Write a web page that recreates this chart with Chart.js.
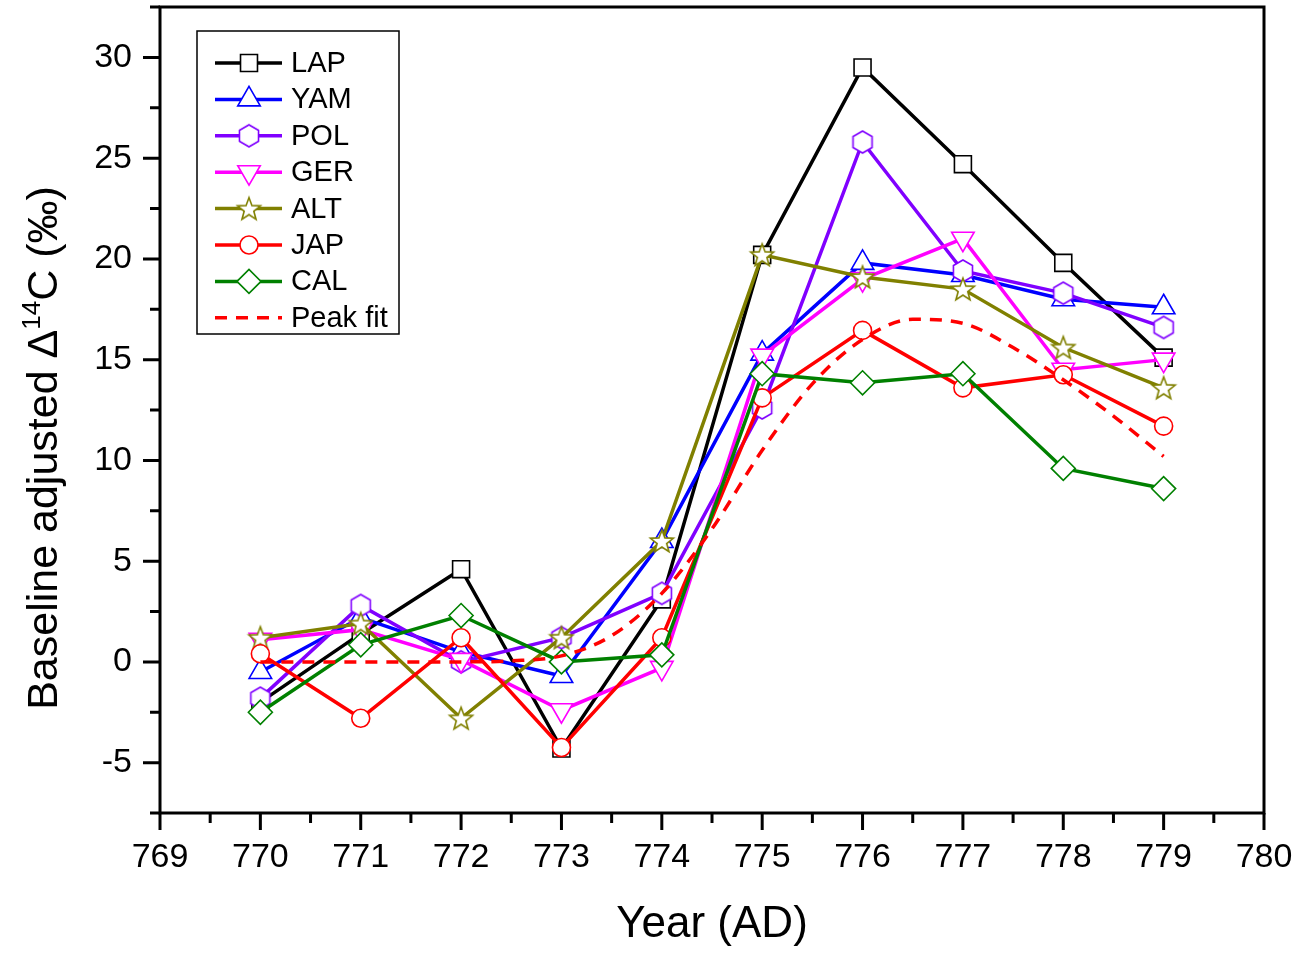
<!DOCTYPE html>
<html>
<head>
<meta charset="utf-8">
<script src="https://cdn.jsdelivr.net/npm/chart.js@4.4.0/dist/chart.umd.min.js"></script>
<style>
  html, body { margin: 0; background: #fff; }
  #wrap { width: 1299px; height: 954px; }
</style>
</head>
<body>
<div id="wrap"><canvas id="chart"></canvas></div>
<script>
// data
const years = [770, 771, 772, 773, 774, 775, 776, 777, 778, 779];
const lap = [-2.0, 1.4, 4.6, -4.3, 3.1, 20.2, 29.5, 24.7, 19.8, 15.1];
const yam = [-0.5, 2.2, 0.5, -0.7, 6.0, 15.3, 19.8, 19.2, 18.0, 17.6];
const pol = [-1.8, 2.8, 0.0, 1.2, 3.4, 12.6, 25.8, 19.4, 18.3, 16.6];
const ger = [1.1, 1.6, 0.1, -2.4, -0.3, 15.2, 19.0, 21.0, 14.5, 15.0];
const alt = [1.2, 1.9, -2.8, 1.2, 6.0, 20.2, 19.1, 18.5, 15.6, 13.6];
const jap = [0.4, -2.8, 1.2, -4.25, 1.2, 13.1, 16.45, 13.6, 14.25, 11.7];
const cal = [-2.5, 0.85, 2.3, 0.0, 0.35, 14.3, 13.85, 14.3, 9.6, 8.6];

const fitYears = [770, 770.5, 771, 771.5, 772, 772.5, 773, 773.5, 774, 774.5, 775, 775.5, 776, 776.5, 777, 777.5, 778, 778.5, 779];
const fitValues = [0, 0, 0, 0, 0, 0.05, 0.3, 1.3, 3.4, 6.6, 10.5, 13.8, 16.0, 17.0, 16.8, 15.6, 14.0, 12.2, 10.2];

const xTicks = [769, 770, 771, 772, 773, 774, 775, 776, 777, 778, 779, 780];
const yTicks = [-5, 0, 5, 10, 15, 20, 25, 30];

const FONT = "'Liberation Sans', Arial, sans-serif";

function markerCanvas(r, color, path) {
  const s = Math.ceil(r * 2 + 4);
  const c = document.createElement("canvas");
  c.width = s;
  c.height = s;
  const g = c.getContext("2d");
  g.translate(s / 2, s / 2);
  g.beginPath();
  path(g, r);
  g.closePath();
  g.fillStyle = "#fff";
  g.fill();
  g.lineWidth = 1.6;
  g.strokeStyle = color;
  g.stroke();
  return c;
}

function hexPath(g, r) {
  for (let i = 0; i < 6; i++) {
    const a = -Math.PI / 2 + i * Math.PI / 3;
    g.lineTo(r * Math.cos(a), r * Math.sin(a));
  }
}

function starPath(g, r) {
  for (let i = 0; i < 10; i++) {
    const a = -Math.PI / 2 + i * Math.PI / 5;
    const rr = i % 2 ? r * 0.42 : r;
    g.lineTo(rr * Math.cos(a), rr * Math.sin(a) + 1);
  }
}

const toPoints = (xs, ys) => xs.map((x, i) => ({ x: x, y: ys[i] }));

function series(label, values, color, style, radius, rotation) {
  return {
    label: label,
    data: toPoints(years, values),
    borderColor: color,
    backgroundColor: "#fff",
    borderWidth: 3.5,
    pointStyle: style,
    pointRadius: radius,
    pointRotation: rotation || 0,
    pointBorderColor: color,
    pointBackgroundColor: "#fff",
    pointBorderWidth: 1.6,
    tension: 0
  };
}

const datasets = [
  series("LAP", lap, "#000000", "rect", 12),
  series("YAM", yam, "#0000ff", "triangle", 13),
  series("POL", pol, "#8000ff", markerCanvas(11, "#8000ff", hexPath), 11),
  series("GER", ger, "#ff00ff", "triangle", 13, 180),
  series("ALT", alt, "#808000", markerCanvas(12, "#808000", starPath), 12),
  series("JAP", jap, "#ff0000", "circle", 9),
  series("CAL", cal, "#008000", "rectRot", 12),
  {
    label: "Peak fit",
    data: toPoints(fitYears, fitValues),
    borderColor: "#ff0000",
    borderWidth: 3.5,
    borderDash: [12, 9],
    pointRadius: 0,
    cubicInterpolationMode: "monotone",
    fill: false
  }
];
// later series drawn on top
datasets.forEach((d, i) => { d.order = datasets.length - i; });

// y title with a real superscript, drawn rotated
function drawYTitle(ctx, cx, cy) {
  const parts = [
    { t: "Baseline adjusted \u0394", size: 43, dy: 0 },
    { t: "14", size: 26, dy: -17 },
    { t: "C (\u2030)", size: 43, dy: 0 }
  ];
  let total = 0;
  parts.forEach(p => {
    ctx.font = p.size + "px " + FONT;
    p.w = ctx.measureText(p.t).width;
    total += p.w;
  });
  ctx.save();
  ctx.translate(cx, cy);
  ctx.rotate(-Math.PI / 2);
  ctx.fillStyle = "#000";
  ctx.textAlign = "left";
  ctx.textBaseline = "alphabetic";
  let x = -total / 2;
  parts.forEach(p => {
    ctx.font = p.size + "px " + FONT;
    ctx.fillText(p.t, x, 15 + p.dy);
    x += p.w;
  });
  ctx.restore();
}

const framePlugin = {
  id: "frame",
  afterDatasetsDraw(chart) {
    const ctx = chart.ctx;
    const a = chart.chartArea;
    const xs = chart.scales.x;
    const ys = chart.scales.y;
    ctx.save();
    ctx.strokeStyle = "#000";
    ctx.lineWidth = 3;
    ctx.strokeRect(a.left, a.top, a.right - a.left, a.bottom - a.top);
    ctx.beginPath();
    for (let v = xs.min; v <= xs.max + 0.01; v += 0.5) {
      const px = xs.getPixelForValue(v);
      const len = Number.isInteger(v) ? 17 : 10;
      ctx.moveTo(px, a.bottom);
      ctx.lineTo(px, a.bottom + len);
    }
    for (let v = ys.min; v <= ys.max + 0.01; v += 2.5) {
      const py = ys.getPixelForValue(v);
      const len = v % 5 === 0 ? 17 : 10;
      ctx.moveTo(a.left, py);
      ctx.lineTo(a.left - len, py);
    }
    ctx.stroke();

    drawYTitle(ctx, 42, 448);

    // legend
    const lx = 197, ly = 31, lw = 202, lh = 303;
    ctx.fillStyle = "#fff";
    ctx.fillRect(lx, ly, lw, lh);
    ctx.lineWidth = 1.5;
    ctx.strokeRect(lx, ly, lw, lh);
    ctx.font = "29px " + FONT;
    ctx.textBaseline = "middle";
    chart.data.datasets.forEach((d, i) => {
      const y = 63 + i * 36.4;
      ctx.save();
      ctx.strokeStyle = d.borderColor;
      ctx.lineWidth = 3.5;
      ctx.setLineDash(d.borderDash || []);
      ctx.beginPath();
      ctx.moveTo(215, y);
      ctx.lineTo(282, y);
      ctx.stroke();
      ctx.restore();
      if (d.pointRadius > 0) {
        ctx.save();
        ctx.fillStyle = "#fff";
        ctx.strokeStyle = d.borderColor;
        ctx.lineWidth = 1.6;
        Chart.helpers.drawPoint(ctx, {
          pointStyle: d.pointStyle,
          radius: d.pointRadius,
          rotation: d.pointRotation,
          borderWidth: 1.6
        }, 249, y);
        ctx.restore();
      }
      ctx.fillStyle = "#000";
      ctx.textAlign = "left";
      ctx.fillText(d.label, 291, y + 1);
    });
    ctx.restore();
  }
};

new Chart(document.getElementById("chart"), {
  type: "line",
  data: { datasets: datasets },
  options: {
    responsive: true,
    maintainAspectRatio: false,
    animation: false,
    layout: { autoPadding: false, padding: { top: 7, right: 35, left: 0, bottom: 0 } },
    plugins: {
      legend: { display: false },
      tooltip: { enabled: false }
    },
    scales: {
      x: {
        type: "linear",
        min: 769,
        max: 780,
        afterBuildTicks: s => { s.ticks = xTicks.map(v => ({ value: v })); },
        afterFit: s => {
          s.height = 141;
          s.paddingLeft = 0;
          s.paddingRight = 0;
        },
        grid: { display: false, drawTicks: false },
        border: { display: false },
        ticks: {
          color: "#000",
          padding: 24,
          maxRotation: 0,
          autoSkip: false,
          font: { family: FONT, size: 34 }
        },
        title: {
          display: true,
          text: "Year (AD)",
          color: "#000",
          font: { family: FONT, size: 44 },
          padding: { top: 0, bottom: 3 }
        }
      },
      y: {
        min: -7.5,
        max: 32.5,
        afterBuildTicks: s => { s.ticks = yTicks.map(v => ({ value: v })); },
        afterFit: s => {
          s.width = 160;
          s.paddingTop = 0;
          s.paddingBottom = 0;
        },
        grid: { display: false, drawTicks: false },
        border: { display: false },
        ticks: {
          color: "#000",
          padding: 28,
          font: { family: FONT, size: 34 }
        },
        title: { display: false }
      }
    }
  },
  plugins: [framePlugin]
});
</script>
</body>
</html>
